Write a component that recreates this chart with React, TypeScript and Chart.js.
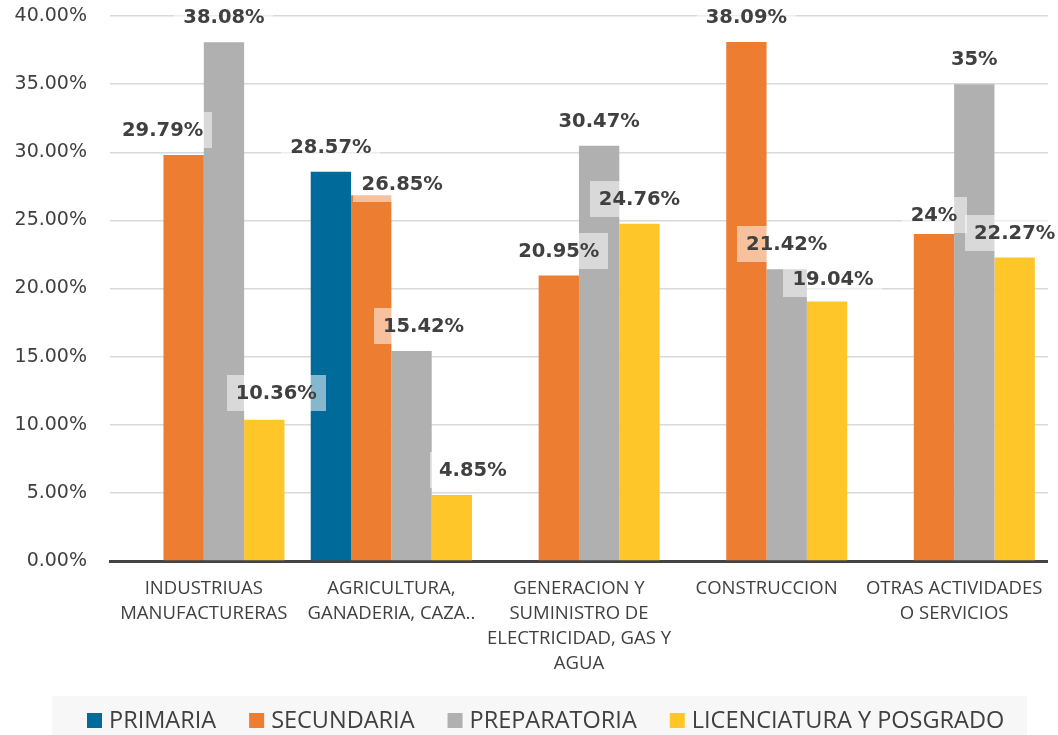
import React, { useEffect, useRef } from "react";
import { Chart, registerables } from "chart.js";

Chart.register(...registerables);

const categories: string[][] = [
  ["INDUSTRIUAS", "MANUFACTURERAS"],
  ["AGRICULTURA,", "GANADERIA, CAZA.."],
  ["GENERACION Y", "SUMINISTRO DE", "ELECTRICIDAD, GAS Y", "AGUA"],
  ["CONSTRUCCION"],
  ["OTRAS ACTIVIDADES", "O SERVICIOS"],
];

const seriesNames = ["PRIMARIA", "SECUNDARIA", "PREPARATORIA", "LICENCIATURA Y POSGRADO"];

const primaria: (number | null)[] = [null, 28.57, null, null, null];
const secundaria: (number | null)[] = [29.79, 26.85, 20.95, 38.09, 24];
const preparatoria: (number | null)[] = [38.08, 15.42, 30.47, 21.42, 35];
const licenciatura: (number | null)[] = [10.36, 4.85, 24.76, 19.04, 22.27];

const seriesColors = ["#006A9A", "#ED7D31", "#B0B0B0", "#FFC62A"];

// Label nudges (pixels) per series/category, as in the reference layout
const LABEL_NUDGE: Record<string, [number, number]> = {
  "1-0": [-21, 0],
  "3-0": [12, -2],
  "1-1": [31, 14],
  "2-1": [12, 0],
  "3-1": [21, 0],
  "3-3": [6, 2],
  "1-4": [0, 6],
};

const fmtLabel = (v: number) => `${+v.toFixed(2)}%`;

const TEXT = "#404040";

const labelPlugin = {
  id: "barLabels",
  afterDatasetsDraw(chart: any) {
    const ctx = chart.ctx;
    const items: { x: number; y: number; t: string }[] = [];
    chart.data.datasets.forEach((ds: any, i: number) => {
      const meta = chart.getDatasetMeta(i);
      meta.data.forEach((el: any, j: number) => {
        const v = ds.data[j];
        if (v === null || v === undefined) return;
        const n = LABEL_NUDGE[`${i}-${j}`] || [0, 0];
        items.push({ x: el.x + n[0], y: el.y - 25 + n[1], t: fmtLabel(v) });
      });
    });
    ctx.save();
    ctx.font = "bold 19.5px 'DejaVu Sans'";
    ctx.textAlign = "center";
    ctx.textBaseline = "middle";
    items.forEach((it) => {
      const w = ctx.measureText(it.t).width + 18;
      ctx.fillStyle = "rgba(255,255,255,0.52)";
      ctx.fillRect(Math.round(it.x - w / 2), Math.round(it.y - 18), Math.round(w), 36);
    });
    ctx.fillStyle = TEXT;
    items.forEach((it) => {
      ctx.fillText(it.t, it.x, it.y + 1);
    });
    ctx.restore();
  },
};

const legendPlugin = {
  id: "customLegend",
  afterDraw(chart: any) {
    const ctx = chart.ctx;
    ctx.save();
    ctx.fillStyle = "#F7F7F7";
    ctx.fillRect(52, 696, 975, 39);
    ctx.font = "23.5px 'Open Sans'";
    ctx.textBaseline = "middle";
    ctx.textAlign = "left";
    let x = 87;
    const cy = 720;
    chart.data.datasets.forEach((ds: any) => {
      ctx.fillStyle = ds.backgroundColor;
      ctx.fillRect(x, cy - 7, 15, 15);
      ctx.fillStyle = TEXT;
      const tx = x + 22;
      ctx.fillText(ds.label, tx, cy + 1);
      x = tx + ctx.measureText(ds.label).width + 33;
    });
    ctx.restore();
  },
};

export default function App() {
  const ref = useRef<HTMLCanvasElement | null>(null);
  useEffect(() => {
    if (!ref.current) return;
    const data = [primaria, secundaria, preparatoria, licenciatura];
    const chart = new Chart(ref.current, {
      type: "bar",
      data: {
        labels: categories as any,
        datasets: seriesNames.map((name, i) => ({
          label: name,
          data: data[i] as any,
          backgroundColor: seriesColors[i],
          borderWidth: 0,
          categoryPercentage: 0.86,
          barPercentage: 1,
        })),
      },
      options: {
        responsive: false,
        animation: false,
        devicePixelRatio: 1,
        layout: { padding: { left: 0, right: 6, top: 16, bottom: 39 } },
        plugins: {
          legend: { display: false },
          tooltip: { enabled: false },
        },
        scales: {
          x: {
            grid: { display: false, drawTicks: false },
            border: { display: true, color: "#444444", width: 3 },
            ticks: {
              color: TEXT,
              font: { family: "'Open Sans'", size: 18.5, lineHeight: 1.35 },
              padding: 15,
              maxRotation: 0,
              autoSkip: false,
            },
            afterFit(scale: any) {
              scale.height = 135;
            },
          },
          y: {
            min: 0,
            max: 40,
            grid: { color: "#D9D9D9", lineWidth: 1.5, drawTicks: false },
            border: { display: false },
            ticks: {
              stepSize: 5,
              color: TEXT,
              font: { family: "'DejaVu Sans'", size: 19 },
              padding: 23,
              callback: (v: any) => `${Number(v).toFixed(2)}%`,
            },
            afterFit(scale: any) {
              scale.width = 110;
              scale.paddingTop = 0;
              scale.paddingBottom = 0;
            },
          },
        },
      },
      plugins: [labelPlugin, legendPlugin],
    });
    return () => chart.destroy();
  }, []);
  return (
    <div style={{ position: "fixed", left: 0, top: 0, width: 1058, height: 735, background: "#fff" }}>
      <canvas ref={ref} width={1058} height={735} style={{ display: "block" }} />
    </div>
  );
}
